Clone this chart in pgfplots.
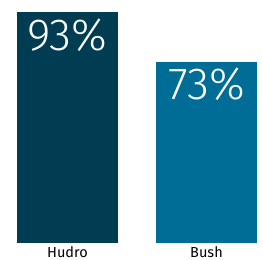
\documentclass[border=0pt]{standalone}
\usepackage{pgfplots}
\pgfplotsset{compat=1.18}
\usepackage{fontspec}
\setmainfont{Fira Sans}
\newfontfamily\lightfont{Fira Sans Light}
\definecolor{barA}{HTML}{003D53}
\definecolor{barB}{HTML}{006D97}
\begin{document}
\begin{tikzpicture}
\useasboundingbox (0,0) rectangle (263pt,260pt);
\begin{axis}[
  at={(0pt,17pt)}, anchor=south west,
  scale only axis, width=263pt, height=243pt,
  xmin=0, xmax=263, ymin=0, ymax=97.83,
  axis line style={draw=none},
  major tick length=0pt,
  ytick=\empty,
  xtick={67.5,206.5}, xticklabels={Hudro,Bush},
  xticklabel style={font=\fontsize{14.5}{15}\selectfont, anchor=base, yshift=-14.5pt, inner sep=0pt},
  ybar, bar width=101pt, bar shift=0pt,
  nodes near coords={\pgfmathprintnumber[assume math mode=true]{\pgfplotspointmeta}\%},
  nodes near coords style={font=\lightfont\fontsize{45}{46}\selectfont, text=white, anchor=base, yshift=-38pt, inner sep=0pt},
  clip=false,
]
\addplot[fill=barA, draw=none] coordinates {(67.5,93)};
\addplot[fill=barB, draw=none] coordinates {(206.5,73)};
\end{axis}
\end{tikzpicture}
\end{document}
